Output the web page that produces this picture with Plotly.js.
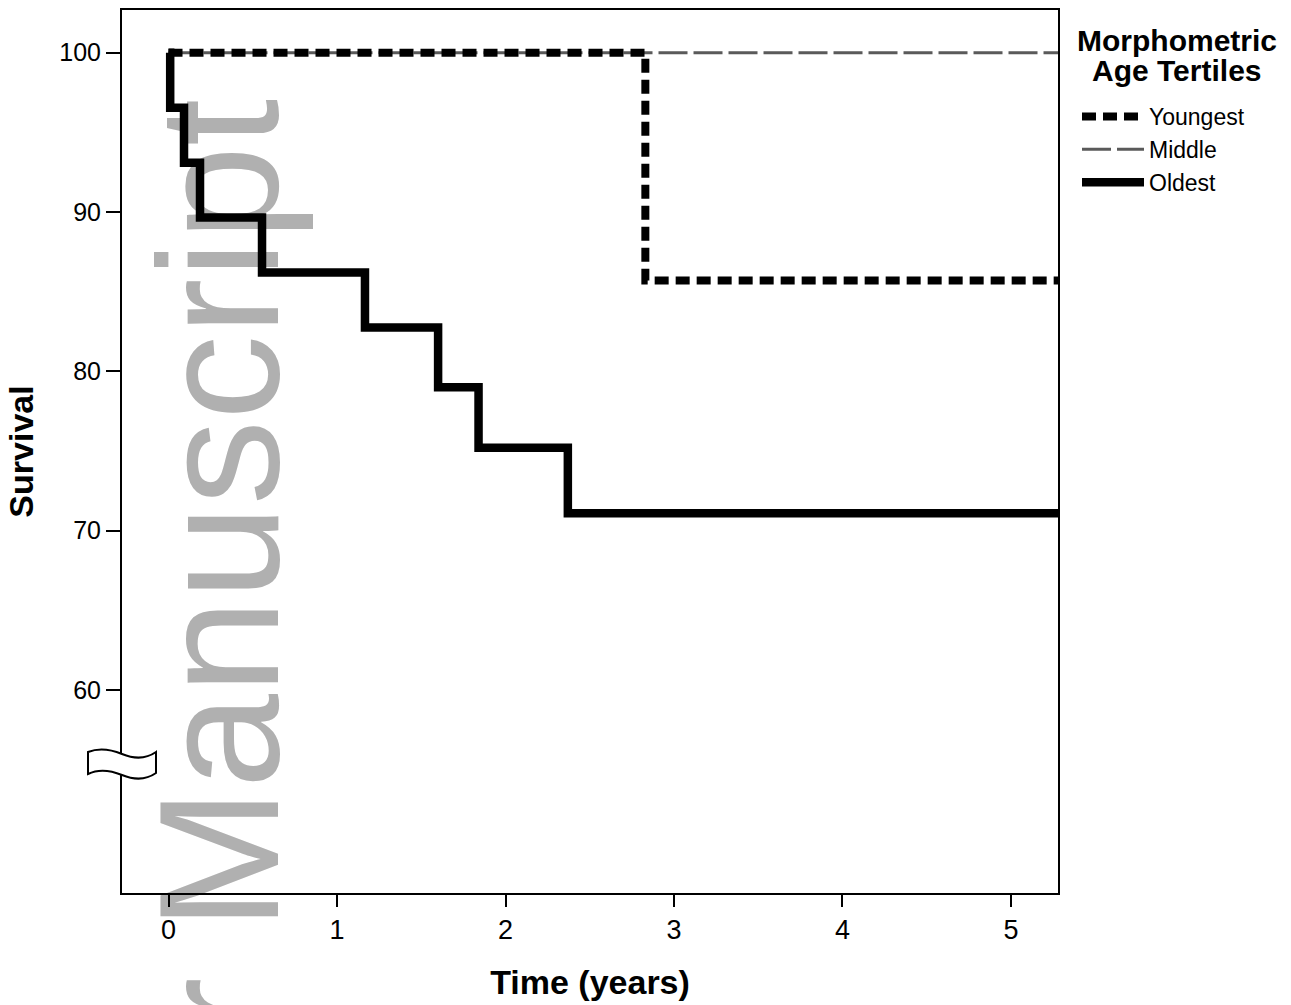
<!DOCTYPE html>
<html>
<head>
<meta charset="utf-8">
<script src="https://cdn.plot.ly/plotly-3.0.1.min.js"></script>
<style>html,body{margin:0;padding:0;background:#fff;}#chart{width:1291px;height:1005px;}</style>
</head>
<body>
<div id="chart"></div>
<script>
// ---- data ----
const seriesNames = ['Youngest', 'Middle', 'Oldest'];
const youngestTime = [0, 2.83, 5.3];
const youngestSurv = [100, 85.7, 85.7];
const middleTime = [0, 5.3];
const middleSurv = [100, 100];
const oldestTime = [0, 0.01, 0.092, 0.187, 0.555, 1.166, 1.60, 1.84, 2.37, 5.3];
const oldestSurv = [100, 96.55, 93.1, 89.66, 86.21, 82.76, 79.0, 75.2, 71.1, 71.1];
const xTicks = [0, 1, 2, 3, 4, 5];
const yTicks = [60, 70, 80, 90, 100];
const legendTitleLines = ['Morphometric', 'Age Tertiles'];
const watermarkText = 'Author Manuscript';

// ---- layout geometry (pixels) ----
const W = 1291, H = 1005;
const M = {l: 122, r: 233, t: 10, b: 112};
const PW = W - M.l - M.r, PH = H - M.t - M.b;
const px = x => (x - M.l) / PW;
const py = y => (H - M.b - y) / PH;

const SANS = 'Liberation Sans, Arial, sans-serif';

const traces = [
  {
    name: seriesNames[1], x: middleTime, y: middleSurv, type: 'scatter', mode: 'lines',
    line: {shape: 'hv', color: '#5a5a5a', width: 3, dash: '29px,6px'}, legendrank: 2,
    hoverinfo: 'skip'
  },
  {
    name: seriesNames[0], x: youngestTime, y: youngestSurv, type: 'scatter', mode: 'lines',
    line: {shape: 'hv', color: '#000', width: 8, dash: '14px,7px'}, legendrank: 1,
    hoverinfo: 'skip'
  },
  {
    name: seriesNames[2], x: oldestTime, y: oldestSurv, type: 'scatter', mode: 'lines',
    line: {shape: 'hv', color: '#000', width: 8.5}, legendrank: 3,
    hoverinfo: 'skip'
  }
];

// broken-axis symbol path (pixel coords converted to paper)
function P(x, y) { return px(x).toFixed(5) + ',' + py(y).toFixed(5); }
const brk = 'M' + P(88, 752) +
  ' C' + P(98, 748) + ' ' + P(110, 749) + ' ' + P(122, 754) +
  ' C' + P(134, 759) + ' ' + P(146, 759) + ' ' + P(156, 752) +
  ' L' + P(156, 773) +
  ' C' + P(146, 780) + ' ' + P(134, 780) + ' ' + P(122, 775) +
  ' C' + P(110, 770) + ' ' + P(98, 769) + ' ' + P(88, 774) + ' Z';

const layout = {
  width: W, height: H,
  margin: M,
  paper_bgcolor: '#fff', plot_bgcolor: '#fff',
  font: {family: SANS, color: '#000'},
  showlegend: true,
  xaxis: {
    range: [-0.276, 5.279], tickvals: xTicks, ticktext: xTicks.map(String),
    showgrid: false, zeroline: false, showline: true, mirror: true,
    linecolor: '#000', linewidth: 2, ticks: 'outside', ticklen: 12, tickwidth: 2, tickcolor: '#000',
    tickfont: {family: SANS, size: 27, color: '#000'}, ticklabelstandoff: 0,
    title: {text: 'Time (years)', font: {family: SANS, size: 34, color: '#000', weight: 'bold'}, standoff: 26}
  },
  yaxis: {
    range: [47.26, 102.68], tickvals: yTicks, ticktext: yTicks.map(String),
    showgrid: false, zeroline: false, showline: true, mirror: true,
    linecolor: '#000', linewidth: 2, ticks: 'outside', ticklen: 14, tickwidth: 2, tickcolor: '#000',
    tickfont: {family: SANS, size: 25, color: '#000'},
    title: {text: 'Survival', font: {family: SANS, size: 34, color: '#000', weight: 'bold'}, standoff: 15}
  },
  legend: {
    x: px(1077), xanchor: 'left', y: py(95), yanchor: 'top',
    font: {family: SANS, size: 23, color: '#000'},
    bgcolor: 'rgba(0,0,0,0)', borderwidth: 0, itemwidth: 62,
    traceorder: 'normal', tracegroupgap: 0
  },
  annotations: legendTitleLines.map((t, i) => ({
    text: t, xref: 'paper', yref: 'paper', x: px(1177), y: py(41 + i * 29),
    xanchor: 'center', yanchor: 'middle', showarrow: false,
    font: {family: SANS, size: 30, color: '#000', weight: 'bold'}
  })),
  shapes: [
    {
      type: 'rect', xref: 'paper', yref: 'paper', layer: 'below',
      x0: px(193), x1: px(213), y0: py(798), y1: py(779),
      line: {width: 0}, fillcolor: 'rgba(0,0,0,0)',
      label: {text: watermarkText, textangle: -90, textposition: 'middle center',
        font: {family: SANS, size: 170, color: '#b0b0b0'}}
    },
    {
      type: 'path', xref: 'paper', yref: 'paper', layer: 'above', path: brk,
      fillcolor: '#fff', line: {color: '#000', width: 2}
    }
  ]
};

Plotly.newPlot('chart', traces, layout, {displayModeBar: false, staticPlot: true});
</script>
</body>
</html>
